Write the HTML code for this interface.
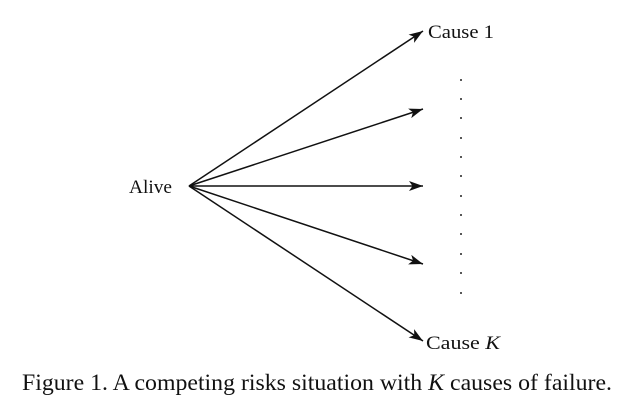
<!DOCTYPE html>
<html><head><meta charset="utf-8"><style>
html,body{margin:0;padding:0;background:#fff;width:631px;height:406px;overflow:hidden}
svg text{font-family:"Liberation Serif",serif;fill:#111}
</style></head><body>
<svg width="631" height="406">
<defs><marker id="ah" markerWidth="14" markerHeight="10" refX="14" refY="5" orient="auto" markerUnits="userSpaceOnUse"><path d="M0,0 L14,5 L0,10 L3.5,5 Z" fill="#111"/></marker></defs>
<g id="arrows"></g>
<g id="dots"></g>
<text x="129" y="193" font-size="19" textLength="43" lengthAdjust="spacingAndGlyphs">Alive</text>
<text x="428" y="38" font-size="19" textLength="66" lengthAdjust="spacingAndGlyphs">Cause 1</text>
<text x="426" y="349" font-size="19" textLength="74" lengthAdjust="spacingAndGlyphs">Cause <tspan font-style="italic">K</tspan></text>
<text x="22" y="390" font-size="23" textLength="590" lengthAdjust="spacingAndGlyphs">Figure 1. A competing risks situation with <tspan font-style="italic">K</tspan> causes of failure.</text>
</svg>
<script>
const targetsY=[31,109,186,264,341];
const dotsY=[80,99,118,138,157,176,196,215,234,254,273,293];
const NS="http://www.w3.org/2000/svg";
const ox=189,oy=186,tx=423;
const ga=document.getElementById('arrows');
targetsY.forEach((y,i)=>{
const l=document.createElementNS(NS,'line');
l.setAttribute('x1',ox);l.setAttribute('y1',oy);l.setAttribute('x2',tx);l.setAttribute('y2',y);
l.setAttribute('stroke','#111');l.setAttribute('stroke-width','1.5');l.setAttribute('marker-end','url(#ah)');


ga.appendChild(l);});
const gd=document.getElementById('dots');
dotsY.forEach(y=>{
const c=document.createElementNS(NS,'circle');
c.setAttribute('cx',461);c.setAttribute('cy',y);c.setAttribute('r',1);c.setAttribute('fill','#222');


gd.appendChild(c);});
</script>
</body></html>
